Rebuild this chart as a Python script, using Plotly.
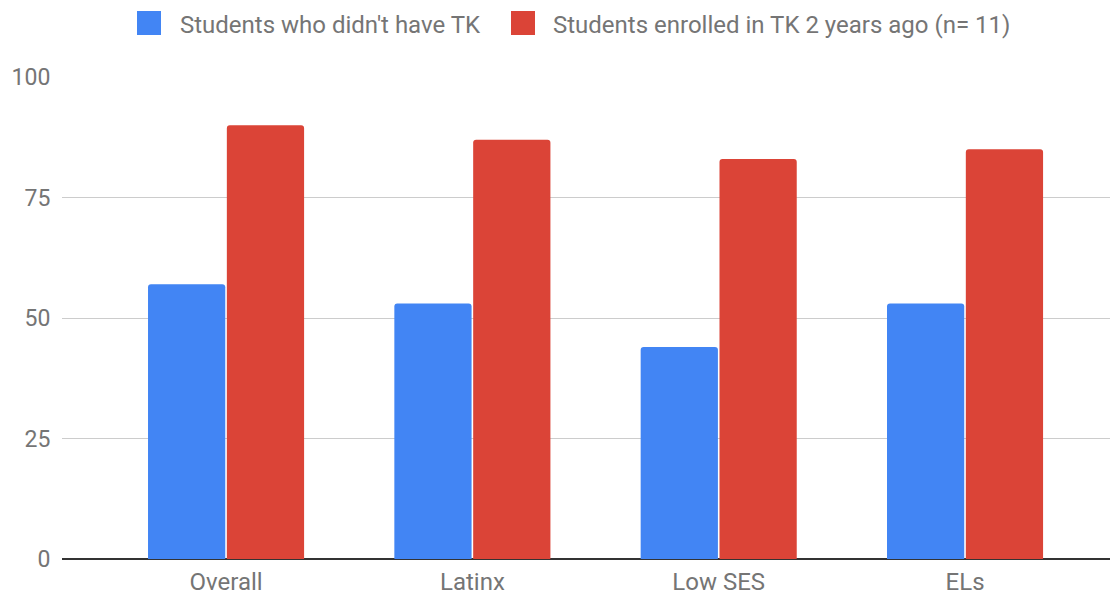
import plotly.graph_objects as go

categories = ["Overall", "Latinx", "Low SES", "ELs"]
no_tk = [57, 53, 44, 53]
tk = [90, 87, 83, 85]
series_names = ["Students who didn't have TK", "Students enrolled in TK 2 years ago (n= 11)"]
series_colors = ["#4285f4", "#db4437"]
y_ticks = [0, 25, 50, 75, 100]

# page body offset (browser default margin) is 8px
OFF = 8
W, H = 1118 - OFF, 597 - OFF
L, T, B, R = 62 - OFF, 77 - OFF, 38, 0
PW, PH = W - L - R, H - T - B


def px_x(x):  # screen px -> paper
    return (x - OFF - L) / PW


def px_y(y):  # screen px -> paper
    return (H - B - (y - OFF)) / PH


fig = go.Figure()
for name, vals, col in zip(series_names, [no_tk, tk], series_colors):
    fig.add_trace(go.Bar(x=categories, y=vals, name=name, showlegend=False,
                         marker=dict(color=col, cornerradius=3, line=dict(width=0))))

# custom legend (large square swatches)
legend_sw = [137, 511]
legend_tx = [178, 551]
shapes, annotations = [], []
for name, col, sx, tx in zip(series_names, series_colors, legend_sw, legend_tx):
    shapes.append(dict(type="rect", xref="paper", yref="paper",
                       x0=px_x(sx), x1=px_x(sx + 24), y0=px_y(35), y1=px_y(11),
                       fillcolor=col, line=dict(width=0)))
    annotations.append(dict(text=name, xref="paper", yref="paper", x=px_x(tx), y=px_y(25),
                            xanchor="left", yanchor="middle", showarrow=False,
                            font=dict(size=24, color="#757575")))

fig.update_layout(
    width=W, height=H,
    margin=dict(l=L, r=R, t=T, b=B, autoexpand=False),
    paper_bgcolor="white", plot_bgcolor="white",
    font=dict(family="Roboto", size=24, color="#757575"),
    barmode="group", bargap=0.36, bargroupgap=0.02,
    showlegend=False,
    shapes=shapes, annotations=annotations,
    xaxis=dict(range=[-0.666, 3.621], showgrid=False, ticks="", showline=False,
               ticklabelstandoff=6,
               tickfont=dict(size=24, color="#757575")),
    yaxis=dict(range=[0, 100], tickvals=y_ticks, showgrid=True, gridcolor="#cccccc",
               gridwidth=1, zeroline=True, zerolinecolor="#333333", zerolinewidth=2,
               showline=False, ticks="outside", ticklen=6, tickcolor="white",
               tickfont=dict(size=23, color="#757575")),
)
fig.write_html("out.html")
